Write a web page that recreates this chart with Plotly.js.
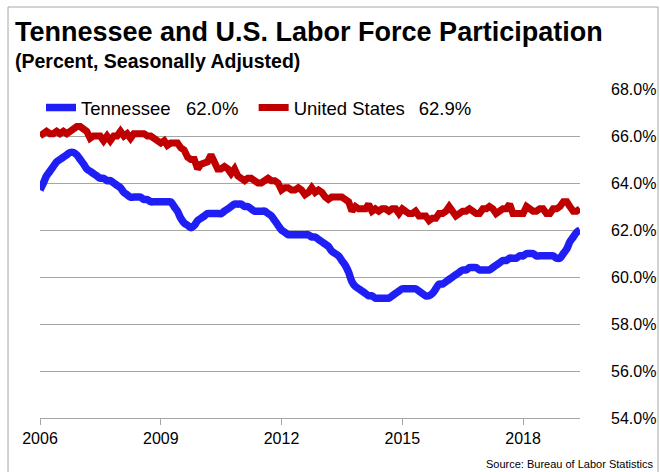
<!DOCTYPE html>
<html>
<head>
<meta charset="utf-8">
<script src="https://cdn.plot.ly/plotly-3.0.1.min.js"></script>
<style>
  html, body { margin: 0; padding: 0; background: #fff; }
  #chart { width: 660px; height: 472px; }
</style>
</head>
<body>
<div id="chart"></div>
<script>
// monthly, seasonally adjusted, Jan 2006 - Jun 2019
const START_YEAR = 2006;

const tennessee = [
  63.7, 64.0, 64.3, 64.5, 64.7, 64.9, 65.0, 65.1, 65.2, 65.3, 65.3, 65.2, // 2006
  65.0, 64.8, 64.6, 64.5, 64.4, 64.3, 64.2, 64.2, 64.1, 64.1, 64.0, 63.9, // 2007
  63.8, 63.6, 63.5, 63.4, 63.4, 63.4, 63.4, 63.3, 63.3, 63.2, 63.2, 63.2, // 2008
  63.2, 63.2, 63.2, 63.2, 63.0, 62.8, 62.5, 62.3, 62.2, 62.1, 62.2, 62.4, // 2009
  62.5, 62.6, 62.7, 62.7, 62.7, 62.7, 62.7, 62.8, 62.9, 63.0, 63.1, 63.1, // 2010
  63.1, 63.0, 63.0, 62.9, 62.8, 62.8, 62.8, 62.8, 62.7, 62.6, 62.4, 62.2, // 2011
  62.0, 61.9, 61.8, 61.8, 61.8, 61.8, 61.8, 61.8, 61.8, 61.7, 61.7, 61.6, // 2012
  61.5, 61.4, 61.3, 61.1, 61.0, 60.9, 60.7, 60.5, 60.2, 59.8, 59.6, 59.5, // 2013
  59.4, 59.3, 59.2, 59.2, 59.1, 59.1, 59.1, 59.1, 59.1, 59.2, 59.3, 59.4, // 2014
  59.5, 59.5, 59.5, 59.5, 59.5, 59.4, 59.3, 59.2, 59.2, 59.3, 59.5, 59.7, // 2015
  59.7, 59.8, 59.9, 60.0, 60.1, 60.2, 60.3, 60.3, 60.4, 60.4, 60.4, 60.3, // 2016
  60.3, 60.3, 60.3, 60.4, 60.5, 60.6, 60.7, 60.7, 60.8, 60.8, 60.8, 60.9, // 2017
  60.9, 61.0, 61.0, 61.0, 60.9, 60.9, 60.9, 60.9, 60.9, 60.9, 60.8, 60.8, // 2018
  61.0, 61.2, 61.5, 61.7, 61.9, 62.0                                      // 2019
];

const unitedStates = [
  66.0, 66.1, 66.2, 66.1, 66.1, 66.2, 66.1, 66.2, 66.1, 66.2, 66.3, 66.4, // 2006
  66.4, 66.3, 66.2, 65.9, 66.0, 66.0, 66.0, 65.8, 66.0, 65.8, 66.0, 66.0, // 2007
  66.2, 66.0, 66.1, 65.9, 66.1, 66.1, 66.1, 66.1, 66.0, 66.0, 65.9, 65.8, // 2008
  65.7, 65.8, 65.6, 65.7, 65.7, 65.7, 65.5, 65.4, 65.1, 65.0, 65.0, 64.6, // 2009
  64.8, 64.9, 64.9, 65.2, 64.9, 64.6, 64.6, 64.7, 64.6, 64.4, 64.6, 64.3, // 2010
  64.2, 64.1, 64.2, 64.2, 64.1, 64.0, 64.0, 64.1, 64.2, 64.1, 64.1, 64.0, // 2011
  63.7, 63.8, 63.8, 63.7, 63.7, 63.8, 63.7, 63.5, 63.6, 63.8, 63.6, 63.7, // 2012
  63.6, 63.4, 63.3, 63.4, 63.4, 63.4, 63.4, 63.3, 63.2, 62.8, 63.0, 62.9, // 2013
  62.9, 62.9, 63.1, 62.8, 62.9, 62.8, 62.9, 62.9, 62.8, 62.9, 62.9, 62.7, // 2014
  62.9, 62.8, 62.7, 62.7, 62.8, 62.6, 62.6, 62.6, 62.4, 62.5, 62.5, 62.7, // 2015
  62.7, 62.8, 63.0, 62.8, 62.6, 62.7, 62.8, 62.8, 62.9, 62.8, 62.7, 62.7, // 2016
  62.9, 62.9, 63.0, 62.9, 62.7, 62.8, 62.9, 62.9, 63.1, 62.7, 62.7, 62.7, // 2017
  62.7, 63.0, 62.9, 62.8, 62.8, 62.9, 62.9, 62.7, 62.7, 62.9, 62.9, 63.0, // 2018
  63.2, 63.2, 63.0, 62.8, 62.8, 62.9                                      // 2019
];

const tickYears = [2006, 2009, 2012, 2015, 2018];
const yTicks = [54, 56, 58, 60, 62, 64, 66, 68];

const months = tennessee.map((_, i) => {
  const y = START_YEAR + Math.floor(i / 12);
  const m = (i % 12) + 1;
  return `${y}-${String(m).padStart(2, '0')}-01`;
});

const lastTN = tennessee[tennessee.length - 1].toFixed(1);
const lastUS = unitedStates[unitedStates.length - 1].toFixed(1);

const FONT = 'Liberation Sans, Arial, sans-serif';
const GRID = '#a6a6a6';

const traces = [
  {
    x: months,
    y: tennessee,
    type: 'scatter',
    mode: 'lines',
    // trailing spaces keep the gap before the next legend entry
    name: `Tennessee\u00a0\u00a0\u00a0${lastTN}%\u00a0\u00a0`,
    line: { color: '#1f1ff5', width: 7.5, shape: 'spline', smoothing: 0.8 }
  },
  {
    x: months,
    y: unitedStates,
    type: 'scatter',
    mode: 'lines',
    name: `United States\u00a0\u00a0\u2009${lastUS}%`,
    line: { color: '#c00000', width: 7 }
  }
];

const layout = {
  width: 660,
  height: 472,
  margin: { l: 40, r: 80, t: 89, b: 54, autoexpand: false },
  paper_bgcolor: '#fff',
  plot_bgcolor: '#fff',
  font: { family: FONT, color: '#000' },
  showlegend: true,
  legend: {
    orientation: 'h',
    xref: 'container',
    yref: 'container',
    x: 41 / 660,
    y: 1 - 89 / 472,
    xanchor: 'left',
    yanchor: 'top',
    bgcolor: 'rgba(255,255,255,0)',
    font: { family: FONT, size: 18.5, color: '#000' },
    itemwidth: 30,
    tracegroupgap: 0
  },
  xaxis: {
    type: 'date',
    range: [months[0], months[months.length - 1]],
    tickvals: tickYears.map(y => `${y}-01-01`),
    ticktext: tickYears.map(String),
    showgrid: false,
    zeroline: false,
    showline: true,
    linecolor: GRID,
    linewidth: 1,
    ticks: 'outside',
    ticklen: 6,
    tickcolor: GRID,
    tickfont: { family: FONT, size: 16, color: '#000' }
  },
  yaxis: {
    side: 'right',
    range: [54, 68],
    tickvals: yTicks,
    ticktext: yTicks.map(v => v.toFixed(1) + '%'),
    showgrid: true,
    gridcolor: GRID,
    gridwidth: 1,
    zeroline: false,
    showline: false,
    ticks: '',
    ticklabelstandoff: 30,
    tickfont: { family: FONT, size: 16, color: '#000' },
    fixedrange: true
  },
  shapes: [
    {
      type: 'rect',
      xref: 'paper',
      yref: 'paper',
      x0: (8 - 40) / 540,
      x1: (658 - 40) / 540,
      y0: (418 - 476) / 329,
      y1: (418 - 7) / 329,
      line: { color: '#a6a6a6', width: 1 },
      fillcolor: 'rgba(0,0,0,0)'
    }
  ],
  annotations: [
    {
      xref: 'paper', yref: 'paper',
      x: (13 - 40) / 540, y: (418 - 32) / 329,
      xanchor: 'left', yanchor: 'middle',
      text: '<b>Tennessee and U.S. Labor Force Participation</b>',
      showarrow: false,
      font: { family: FONT, size: 27, color: '#000' }
    },
    {
      xref: 'paper', yref: 'paper',
      x: (13 - 40) / 540, y: (418 - 61) / 329,
      xanchor: 'left', yanchor: 'middle',
      text: '<b>(Percent, Seasonally Adjusted)</b>',
      showarrow: false,
      font: { family: FONT, size: 19.5, color: '#000' }
    },
    {
      xref: 'paper', yref: 'paper',
      x: (655 - 40) / 540, y: (418 - 464) / 329,
      xanchor: 'right', yanchor: 'middle',
      text: 'Source: Bureau of Labor Statistics',
      showarrow: false,
      font: { family: FONT, size: 11, color: '#000' }
    }
  ]
};

Plotly.newPlot('chart', traces, layout, { displayModeBar: false, staticPlot: true });
</script>
</body>
</html>
